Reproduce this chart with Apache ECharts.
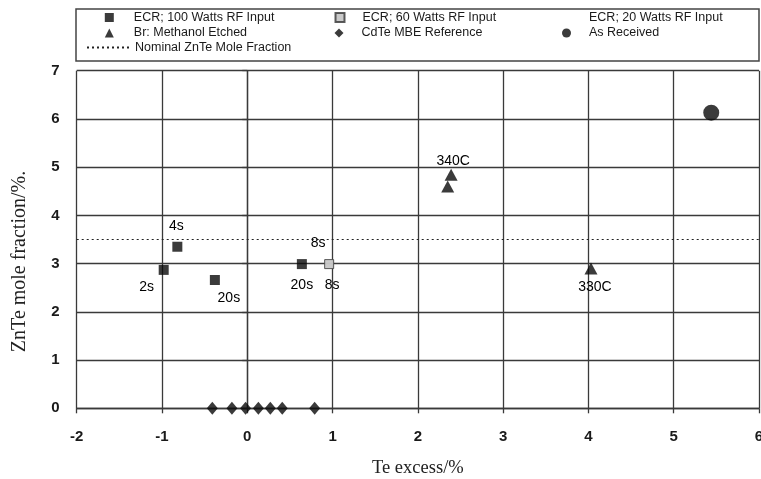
<!DOCTYPE html>
<html>
<head>
<meta charset="utf-8">
<script src="https://cdn.jsdelivr.net/npm/echarts@6/dist/echarts.min.js"></script>
<style>
  html, body { margin: 0; padding: 0; background: #fff; }
  #chart { width: 761px; height: 479px; }
</style>
</head>
<body>
<div id="chart"></div>
<script>
// Te excess (%) vs ZnTe mole fraction (%) for differently treated surfaces
const seriesNames = [
  'ECR; 100 Watts RF Input',
  'ECR; 60 Watts RF Input',
  'ECR; 20 Watts RF Input',
  'Br: Methanol Etched',
  'CdTe MBE Reference',
  'As Received',
  'Nominal ZnTe Mole Fraction'
];

const ecr100X = [-0.98, -0.82, -0.38, 0.64];
const ecr100Y = [2.87, 3.35, 2.66, 2.99];
const ecr100Labels = ['2s', '4s', '20s', '20s'];

const ecr60X = [0.96];
const ecr60Y = [2.99];
const ecr60Labels = ['8s'];

const ecr20X = [0.96];
const ecr20Y = [2.99];
const ecr20Labels = ['8s'];

const brX = [2.39, 2.35, 4.03];
const brY = [4.84, 4.60, 2.90];
const brLabels = ['340C', '', '330C'];

const cdteX = [-0.41, -0.18, -0.02, 0.13, 0.27, 0.41, 0.79];
const cdteY = [0, 0, 0, 0, 0, 0, 0];

const asRecX = [5.44];
const asRecY = [6.13];

const nominalX = [-2, 6];
const nominalY = [3.5, 3.5];

const xTicks = [-2, -1, 0, 1, 2, 3, 4, 5, 6];
const yTicks = [0, 1, 2, 3, 4, 5, 6, 7];

// label placement (pixel offsets from each mark's centre)
const ecr100Offsets = [[-17, 17], [-1, -21], [14, 18], [0, 21]];
const ecr60Offsets = [[3, 21]];
const ecr20Offsets = [[-11, -21]];
const brOffsets = [[2, -14], [0, 0], [4, 19]];

const labelFont = {
  color: '#000', fontSize: 14, fontFamily: 'Liberation Sans, Arial, sans-serif',
  textBorderWidth: 0, textBorderColor: 'transparent', opacity: 1
};

function points(xs, ys, labels, offsets) {
  return xs.map((x, i) => {
    const item = { value: [x, ys[i]] };
    if (labels && labels[i]) {
      item.label = Object.assign({
        show: true, position: 'inside', offset: offsets[i],
        formatter: labels[i]
      }, labelFont);
    }
    return item;
  });
}

const chart = echarts.init(document.getElementById('chart'), null, { renderer: 'canvas' });

const legendText = { color: '#1a1a1a', fontSize: 12.5, fontFamily: 'Liberation Sans, Arial, sans-serif', padding: [0, 0, 0, 15] };
function legendItem(name, left, top, extra) {
  return Object.assign({
    data: [name], left: left, top: top, orient: 'horizontal',
    itemWidth: 9, itemHeight: 9, padding: 0, selectedMode: false,
    textStyle: legendText
  }, extra || {});
}
const col2Text = Object.assign({}, legendText, { padding: [0, 0, 0, 13] });

chart.setOption({
  animation: false,
  backgroundColor: '#fff',
  grid: { left: 76.7, right: 2, top: 70.7, bottom: 70.7, containLabel: false, outerBoundsMode: 'none' },
  graphic: [{
    type: 'rect', silent: true,
    shape: { x: 76, y: 9, width: 683, height: 52 },
    style: { fill: null, stroke: '#444', lineWidth: 1.5 }
  }],
  legend: [
    legendItem(seriesNames[0], 104.8, 11),
    legendItem(seriesNames[3], 104.8, 26.5),
    legendItem(null, 86, 41, {
      data: [{ name: seriesNames[6], itemStyle: { opacity: 0 } }],
      itemWidth: 43, itemHeight: 9,
      textStyle: Object.assign({}, legendText, { padding: 0 })
    }),
    legendItem(seriesNames[1], 334.5, 11, { textStyle: col2Text }),
    legendItem(seriesNames[4], 334.5, 26.5, { textStyle: col2Text }),
    legendItem(seriesNames[2], 562, 11, { textStyle: col2Text }),
    legendItem(seriesNames[5], 562, 26.5, { textStyle: col2Text })
  ],
  xAxis: {
    type: 'value', min: xTicks[0], max: xTicks[xTicks.length - 1], interval: 1,
    name: 'Te excess/%', nameLocation: 'middle', nameGap: 50,
    nameTextStyle: { fontFamily: 'Liberation Serif, Times New Roman, serif', fontSize: 18.5, color: '#222' },
    axisLine: { onZero: false, lineStyle: { color: '#3a3a3a', width: 1.3 } },
    axisTick: { show: true, length: 5, lineStyle: { color: '#3a3a3a', width: 1.3 } },
    axisLabel: { margin: 21, color: '#1a1a1a', fontSize: 15, fontWeight: 'bold', fontFamily: 'Liberation Sans, Arial, sans-serif' },
    splitLine: { show: true, lineStyle: { color: '#3a3a3a', width: 1.3 } }
  },
  yAxis: {
    type: 'value', min: yTicks[0], max: yTicks[yTicks.length - 1], interval: 1,
    name: 'ZnTe mole fraction/%.', nameLocation: 'middle', nameGap: 47, nameRotate: 90,
    nameTextStyle: {
      fontFamily: 'Liberation Serif, Times New Roman, serif', fontSize: 20, color: '#222',
      padding: [0, 44, 0, 0]
    },
    axisLine: { show: true, lineStyle: { color: '#3a3a3a', width: 1.3 } },
    axisTick: { show: true, length: 5, lineStyle: { color: '#3a3a3a', width: 1.3 } },
    axisLabel: { margin: 17, color: '#1a1a1a', fontSize: 15, fontWeight: 'bold', fontFamily: 'Liberation Sans, Arial, sans-serif' },
    splitLine: { show: true, lineStyle: { color: '#3a3a3a', width: 1.3 } }
  },
  series: [
    {
      name: seriesNames[6], type: 'line', symbol: 'none',
      data: nominalX.map((x, i) => [x, nominalY[i]]),
      lineStyle: { color: '#222', width: 1.2, type: [2, 3] },
      itemStyle: { color: '#222' }, z: 1
    },
    {
      name: seriesNames[4], type: 'scatter', symbol: 'diamond', symbolSize: [11, 13],
      data: points(cdteX, cdteY), itemStyle: { color: '#0a0a0a' }
    },
    {
      name: seriesNames[2], type: 'scatter', symbol: 'rect', symbolSize: 9,
      data: points(ecr20X, ecr20Y, ecr20Labels, ecr20Offsets),
      itemStyle: { color: '#fff' }
    },
    {
      name: seriesNames[1], type: 'scatter', symbol: 'rect', symbolSize: 9,
      data: points(ecr60X, ecr60Y, ecr60Labels, ecr60Offsets),
      itemStyle: { color: '#bdbdbd', borderColor: '#333', borderWidth: 1 }
    },
    {
      name: seriesNames[0], type: 'scatter', symbol: 'rect', symbolSize: 10,
      data: points(ecr100X, ecr100Y, ecr100Labels, ecr100Offsets),
      itemStyle: { color: '#0a0a0a' }
    },
    {
      name: seriesNames[3], type: 'scatter', symbol: 'triangle', symbolSize: [13, 12],
      data: points(brX, brY, brLabels, brOffsets),
      itemStyle: { color: '#0a0a0a' }
    },
    {
      name: seriesNames[5], type: 'scatter', symbol: 'circle', symbolSize: 16,
      data: points(asRecX, asRecY), itemStyle: { color: '#0a0a0a' }
    }
  ]
});
</script>
</body>
</html>
